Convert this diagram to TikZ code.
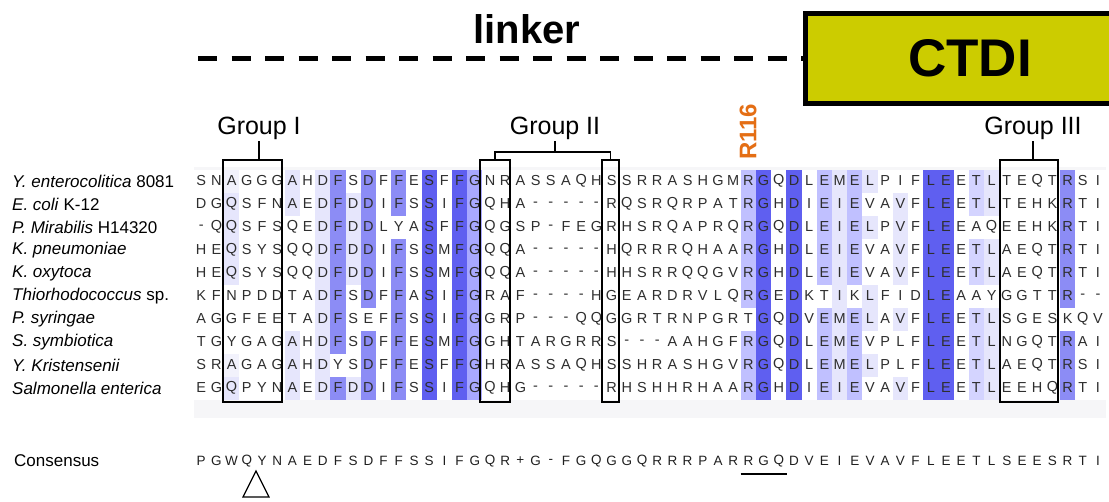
\documentclass[tikz,border=0pt]{standalone}
\usepackage{fontspec}
\setmainfont{Liberation Sans}
\usetikzlibrary{calc}
\definecolor{shd}{RGB}{95,95,240}
\definecolor{shm}{RGB}{140,140,245}
\definecolor{shn}{RGB}{168,168,255}
\definecolor{shl}{RGB}{192,192,255}
\definecolor{shk}{RGB}{212,212,255}
\definecolor{shp}{RGB}{230,230,252}
\definecolor{shq}{RGB}{242,242,252}
\definecolor{ctdicol}{RGB}{204,204,0}
\definecolor{rorange}{RGB}{228,110,20}
\definecolor{stripgray}{RGB}{246,246,248}
\newcount\colc
\def\seqrow#1#2#3{\colc=0 \def\currow{#1}\def\cury{#2}\seqparse#3\relax}
\def\seqparse#1{\ifx#1\relax\else\advance\colc by 1
  \node[res] (s\currow-\the\colc) at ({193.6+(\the\colc-0.5)*15.2},\cury) {#1};%
  \expandafter\seqparse\fi}
\newcommand\shadecol[2]{\foreach \s [count=\r] in {#2}{\if\s o\else\fill[sh\s] ({193.6+(#1-1)*15.2},{169.5+(\r-1)*23}) rectangle ++(15.2,23);\fi}}
\begin{document}
\begin{tikzpicture}[x=1pt,y=-1pt,
  res/.style={inner sep=0pt, minimum width=15.2pt, minimum height=14pt, font=\fontsize{14.5}{14}\selectfont, text=black!82},
  sp/.style={anchor=west, inner sep=0pt, font=\fontsize{17}{20}\selectfont},
  grp/.style={anchor=base, inner sep=2pt, font=\fontsize{25}{28}\selectfont},
  gbox/.style={draw=black, line width=1.5pt, inner sep=0pt},
  brk/.style={draw=black, line width=1.3pt}]
\useasboundingbox (0,0) rectangle (1109,501);
% alignment background
\fill[stripgray] (193.6,167) rectangle (1105.6,418);
\fill[white] (193.6,169.5) rectangle (1105.6,399.5);
% shading
\shadecol{3}{q,p,p,p,p,o,o,o,q,p}
\shadecol{7}{p,p,o,o,o,o,o,p,p,p}
\shadecol{9}{p,p,p,p,p,p,p,p,p,p}
\shadecol{10}{m,m,m,m,m,m,m,m,o,m}
\shadecol{11}{o,p,p,p,p,o,o,o,o,p}
\shadecol{12}{m,m,m,m,m,m,o,m,m,m}
\shadecol{14}{m,m,o,m,m,m,m,m,m,m}
\shadecol{16}{d,d,d,d,d,d,d,d,d,d}
\shadecol{18}{d,d,d,d,d,d,d,d,d,d}
\shadecol{19}{n,n,n,n,n,n,n,n,n,n}
\shadecol{37}{l,l,l,l,l,l,o,l,l,l}
\shadecol{38}{d,d,d,d,d,d,d,d,d,d}
\shadecol{40}{d,d,d,d,d,d,d,d,d,d}
\shadecol{42}{l,l,l,l,l,o,l,l,l,l}
\shadecol{43}{p,p,p,p,p,p,p,p,p,p}
\shadecol{44}{l,l,l,l,l,o,l,l,l,l}
\shadecol{45}{p,o,p,o,o,p,p,o,p,o}
\shadecol{47}{o,p,p,p,p,o,p,o,o,p}
\shadecol{49}{d,d,d,d,d,d,d,d,d,d}
\shadecol{50}{d,d,d,d,d,d,d,d,d,d}
\shadecol{52}{k,k,o,k,k,o,k,k,k,k}
\shadecol{53}{p,p,o,p,p,o,p,p,p,p}
\shadecol{58}{m,m,m,m,m,m,o,m,m,m}
% sequences
\seqrow{1}{181}{SNAGGGAHDFSDFFESFFGNRASSAQHSSRRASHGMRGQDLEMELPIFLEETLTEQTRSI}
\seqrow{2}{204}{DGQSFNAEDFDDIFSSIFGQHA-----RQSRQRPATRGHDIEIEVAVFLEETLTEHKRTI}
\seqrow{3}{227}{-QQSFSQEDFDDLYASFFGQGSP-FEGRHSRQAPRQRGQDLEIELPVFLEEAQEEHKRTI}
\seqrow{4}{250}{HEQSYSQQDFDDIFSSMFGQQA-----HQRRRQHAARGHDLEIEVAVFLEETLAEQTRTI}
\seqrow{5}{273}{HEQSYSQQDFDDIFSSMFGQQA-----HHSRRQQGVRGHDLEIEVAVFLEETLAEQTRTI}
\seqrow{6}{296}{KFNPDDTADFSDFFASIFGRAF----HGEARDRVLQRGEDKTIKLFIDLEAAYGGTTR--}
\seqrow{7}{319}{AGGFEETADFSEFFSSIFGGRP---QQGGRTRNPGRTGQDVEMELAVFLEETLSGESKQV}
\seqrow{8}{342}{TGYGAGAHDFSDFFESMFGGHTARGRRS---AAHGFRGQDLEMEVPLFLEETLNGQTRAI}
\seqrow{9}{365}{SRAGAGAHDYSDFFESFFGHRASSAQHSSHRASHGVRGQDLEMELPLFLEETLAEQTRSI}
\seqrow{10}{388}{EGQPYNAEDFDDIFSSIFGQHG-----RHSHHRHAARGHDIEIEVAVFLEETLEEHQRTI}
% species
\node[sp] (n1) at (12,181) {\textit{Y. enterocolitica} 8081};
\node[sp] (n2) at (12,204) {\textit{E. coli} K-12};
\node[sp] (n3) at (12,227) {\textit{P. Mirabilis} H14320};
\node[sp] (n4) at (12,250) {\textit{K. pneumoniae}};
\node[sp] (n5) at (12,273) {\textit{K. oxytoca}};
\node[sp] (n6) at (12,296) {\textit{Thiorhodococcus} sp.};
\node[sp] (n7) at (12,319) {\textit{P. syringae}};
\node[sp] (n8) at (12,342) {\textit{S. symbiotica}};
\node[sp] (n9) at (12,365) {\textit{Y. Kristensenii}};
\node[sp] (n10) at (12,388) {\textit{Salmonella enterica}};
% group boxes
\node[gbox, minimum width=59pt, minimum height=242pt] (bI) at (252.5,281) {};
\node[gbox, minimum width=30pt, minimum height=242pt] (bIIa) at (495,281) {};
\node[gbox, minimum width=17pt, minimum height=242pt] (bIIb) at (610.5,281) {};
\node[gbox, minimum width=58pt, minimum height=242pt] (bIII) at (1029,281) {};
\node[grp] (gI) at (259,134) {Group I};
\node[grp] (gII) at (555,134) {Group II};
\node[grp] (gIII) at (1033,134) {Group III};
\draw[brk] (gI.south) -- (gI.south |- bI.north);
\coordinate (brII) at (555,152);
\draw[brk] (bIIa.north) |- (brII) -| (bIIb.north);
\draw[brk] (gII.south) -- (brII);
\draw[brk] (gIII.south) -- (gIII.south |- bIII.north);
% R116
\node[rotate=90, anchor=west, text=rorange, font=\bfseries\fontsize{24}{24}\selectfont, inner sep=0pt] (r116) at (748,160) {R116};
% linker and CTDI
\node[font=\bfseries\fontsize{40}{40}\selectfont, anchor=base, inner sep=0pt] (lk) at (527,43) {linker};
\node[draw=black, line width=5pt, fill=ctdicol, minimum width=330pt, minimum height=90pt, font=\bfseries\fontsize{53}{53}\selectfont, inner sep=0pt] (ctdi) at (970,58) {CTDI};
\coordinate (lks) at (198,58);
\draw[line width=5pt, dash pattern=on 19pt off 14.5pt] (lks) -- (ctdi.west);
% consensus
\node[sp] (cons) at (14,461) {Consensus};
\tikzset{res/.style={inner sep=0pt, minimum width=15.2pt, minimum height=13pt, font=\fontsize{13.5}{13}\selectfont, text=black!88}}
\seqrow{c}{461}{PGWQYNAEDFSDFFSSIFGQR+G-FGQGGQRRRPARRGQDVEIEVAVFLEETLSEESRTI}
\draw[line width=1.5pt] ([yshift=-13pt]sc-37.west) -- ([yshift=-13pt]sc-39.east);
\draw[line width=1.2pt] (256,471) -- (243,497) -- (269,497) -- cycle;
\end{tikzpicture}
\end{document}
